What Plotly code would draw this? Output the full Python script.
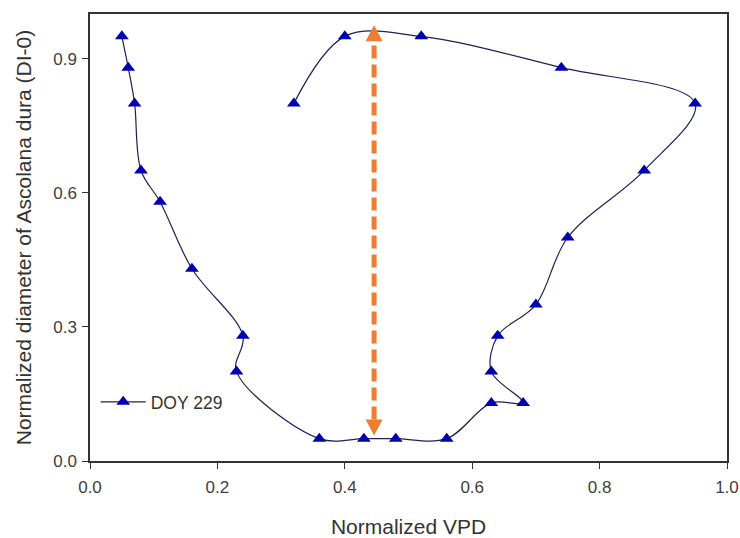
import plotly.graph_objects as go

# ---- data ----
vpd = [0.32, 0.40, 0.52, 0.74, 0.95, 0.87, 0.75, 0.70, 0.64, 0.63, 0.68, 0.63,
       0.56, 0.48, 0.43, 0.36, 0.23, 0.24, 0.16, 0.11, 0.08, 0.07, 0.06, 0.05]
diam = [0.80, 0.95, 0.95, 0.88, 0.80, 0.65, 0.50, 0.35, 0.28, 0.20, 0.13, 0.13,
        0.05, 0.05, 0.05, 0.05, 0.20, 0.28, 0.43, 0.58, 0.65, 0.80, 0.88, 0.95]
series_name = "DOY 229"

x_ticks = [0.0, 0.2, 0.4, 0.6, 0.8, 1.0]
y_ticks = [0.0, 0.3, 0.6, 0.9]

arrow_x = 0.446
arrow_y = [0.057, 0.975]   # bottom tip, top tip

# ---- layout constants ----
W, H = 740, 538
ML, MR, MT, MB = 90, 13, 14, 77
plot_h = H - MT - MB
head_len = 16
head_half = 8.5
orange = "#ED7D31"
font_family = "Liberation Sans, Arial, sans-serif"

fig = go.Figure()
fig.add_trace(go.Scatter(
    x=vpd, y=diam, mode="lines+markers", name=series_name,
    line=dict(color="#1f1f5c", width=1.2, shape="spline", smoothing=1.0),
    marker=dict(symbol="triangle-up", size=12, color="#0000B0",
                line=dict(width=0)),
))

# dashed double-headed arrow
fig.add_shape(type="line", xref="x", yref="y",
              x0=arrow_x, x1=arrow_x,
              y0=arrow_y[0] + head_len / plot_h, y1=arrow_y[1] - head_len / plot_h,
              line=dict(color=orange, width=5, dash="13px,6px"))
fig.add_shape(type="path", xref="x", yref="y",
              xsizemode="pixel", ysizemode="pixel",
              xanchor=arrow_x, yanchor=arrow_y[1],
              path=f"M{-head_half},{-head_len} L{head_half},{-head_len} L0,0 Z",
              fillcolor=orange, line=dict(width=0))
fig.add_shape(type="path", xref="x", yref="y",
              xsizemode="pixel", ysizemode="pixel",
              xanchor=arrow_x, yanchor=arrow_y[0],
              path=f"M{-head_half},{head_len} L{head_half},{head_len} L0,0 Z",
              fillcolor=orange, line=dict(width=0))

axis_common = dict(
    showgrid=False, zeroline=False, showline=True, linecolor="#333333",
    linewidth=1.5, mirror=True, ticks="outside", ticklen=6, tickwidth=1.2,
    tickcolor="#333333", tickformat=".1f",
    tickfont=dict(family=font_family, size=17, color="#404040"),
)

fig.update_xaxes(range=[0, 1.0], tickvals=x_ticks, ticklabelstandoff=4,
                 title=dict(text="Normalized VPD", standoff=23,
                            font=dict(family=font_family, size=21, color="#333333")),
                 **axis_common)
fig.update_yaxes(range=[0, 1.0], tickvals=y_ticks, ticklabelstandoff=2,
                 title=dict(text="Normalized diameter of Ascolana dura (DI-0)", standoff=16,
                            font=dict(family=font_family, size=21, color="#333333")),
                 **axis_common)

fig.update_layout(
    width=W, height=H,
    margin=dict(l=ML, r=MR, t=MT, b=MB, autoexpand=False),
    paper_bgcolor="white", plot_bgcolor="white",
    showlegend=True,
    legend=dict(x=0.009, y=0.132, xanchor="left", yanchor="middle",
                itemwidth=45, bgcolor="rgba(0,0,0,0)",
                font=dict(family=font_family, size=17.5, color="#333333")),
)

fig.write_html("out.html", config={"displayModeBar": False},
               post_script="document.body.style.margin='0';document.body.style.padding='0';")
